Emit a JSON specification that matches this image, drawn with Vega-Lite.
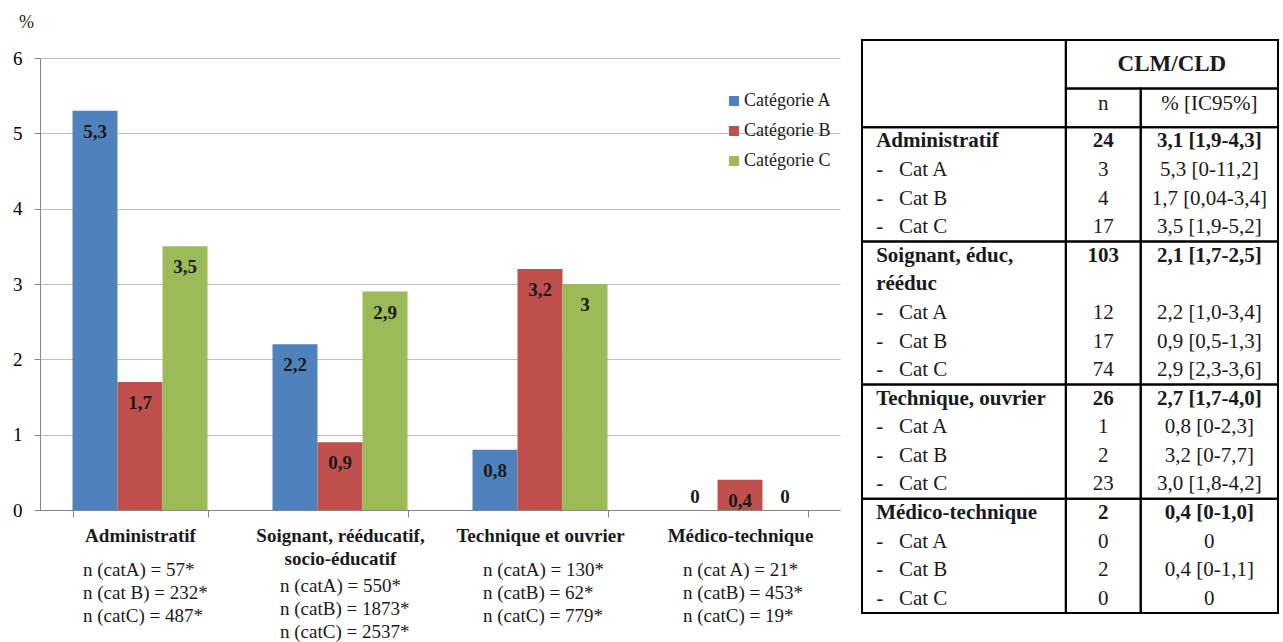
{
  "$schema": "https://vega.github.io/schema/vega-lite/v6.json",
  "background": "white",
  "padding": {"left": 12, "top": 13, "right": 5, "bottom": 5},
  "config": {
    "font": "Liberation Serif",
    "view": {"stroke": null},
    "locale": {"number": {"decimal": ",", "thousands": " ", "grouping": [3], "currency": ["", " €"]}}
  },
  "datasets": {
    "barres": [
      {"metier": "Administratif", "categorie": "Catégorie A", "pct": 5.3},
      {"metier": "Administratif", "categorie": "Catégorie B", "pct": 1.7},
      {"metier": "Administratif", "categorie": "Catégorie C", "pct": 3.5},
      {"metier": "Soignant, rééducatif, socio-éducatif", "categorie": "Catégorie A", "pct": 2.2},
      {"metier": "Soignant, rééducatif, socio-éducatif", "categorie": "Catégorie B", "pct": 0.9},
      {"metier": "Soignant, rééducatif, socio-éducatif", "categorie": "Catégorie C", "pct": 2.9},
      {"metier": "Technique et ouvrier", "categorie": "Catégorie A", "pct": 0.8},
      {"metier": "Technique et ouvrier", "categorie": "Catégorie B", "pct": 3.2},
      {"metier": "Technique et ouvrier", "categorie": "Catégorie C", "pct": 3.0},
      {"metier": "Médico-technique", "categorie": "Catégorie A", "pct": 0},
      {"metier": "Médico-technique", "categorie": "Catégorie B", "pct": 0.4},
      {"metier": "Médico-technique", "categorie": "Catégorie C", "pct": 0}
    ],
    "effectifs": [
      {"metier": "Administratif", "cat": "A", "texte": "n (catA) = 57*"},
      {"metier": "Administratif", "cat": "B", "texte": "n (cat B) = 232*"},
      {"metier": "Administratif", "cat": "C", "texte": "n (catC) =  487*"},
      {"metier": "Soignant, rééducatif, socio-éducatif", "cat": "A", "texte": "n (catA) = 550*"},
      {"metier": "Soignant, rééducatif, socio-éducatif", "cat": "B", "texte": "n (catB) = 1873*"},
      {"metier": "Soignant, rééducatif, socio-éducatif", "cat": "C", "texte": "n (catC) = 2537*"},
      {"metier": "Technique et ouvrier", "cat": "A", "texte": "n (catA) = 130*"},
      {"metier": "Technique et ouvrier", "cat": "B", "texte": "n (catB) = 62*"},
      {"metier": "Technique et ouvrier", "cat": "C", "texte": "n (catC) = 779*"},
      {"metier": "Médico-technique", "cat": "A", "texte": "n (cat A) = 21*"},
      {"metier": "Médico-technique", "cat": "B", "texte": "n (catB) = 453*"},
      {"metier": "Médico-technique", "cat": "C", "texte": "n (catC) = 19*"}
    ],
    "tableau": [
      {"row": 1, "label": "Administratif", "n": "24", "pct": "3,1 [1,9-4,3]", "niveau": "groupe"},
      {"row": 2, "label": "-\u00a0\u00a0\u00a0Cat A", "n": "3", "pct": "5,3 [0-11,2]", "niveau": "sous"},
      {"row": 3, "label": "-\u00a0\u00a0\u00a0Cat B", "n": "4", "pct": "1,7 [0,04-3,4]", "niveau": "sous"},
      {"row": 4, "label": "-\u00a0\u00a0\u00a0Cat C", "n": "17", "pct": "3,5 [1,9-5,2]", "niveau": "sous"},
      {"row": 5, "label": "Soignant, éduc,", "n": "103", "pct": "2,1 [1,7-2,5]", "niveau": "groupe"},
      {"row": 6, "label": "rééduc", "n": "", "pct": "", "niveau": "groupe"},
      {"row": 7, "label": "-\u00a0\u00a0\u00a0Cat A", "n": "12", "pct": "2,2 [1,0-3,4]", "niveau": "sous"},
      {"row": 8, "label": "-\u00a0\u00a0\u00a0Cat B", "n": "17", "pct": "0,9 [0,5-1,3]", "niveau": "sous"},
      {"row": 9, "label": "-\u00a0\u00a0\u00a0Cat C", "n": "74", "pct": "2,9 [2,3-3,6]", "niveau": "sous"},
      {"row": 10, "label": "Technique, ouvrier", "n": "26", "pct": "2,7 [1,7-4,0]", "niveau": "groupe"},
      {"row": 11, "label": "-\u00a0\u00a0\u00a0Cat A", "n": "1", "pct": "0,8 [0-2,3]", "niveau": "sous"},
      {"row": 12, "label": "-\u00a0\u00a0\u00a0Cat B", "n": "2", "pct": "3,2 [0-7,7]", "niveau": "sous"},
      {"row": 13, "label": "-\u00a0\u00a0\u00a0Cat C", "n": "23", "pct": "3,0 [1,8-4,2]", "niveau": "sous"},
      {"row": 14, "label": "Médico-technique", "n": "2", "pct": "0,4 [0-1,0]", "niveau": "groupe"},
      {"row": 15, "label": "-\u00a0\u00a0\u00a0Cat A", "n": "0", "pct": "0", "niveau": "sous"},
      {"row": 16, "label": "-\u00a0\u00a0\u00a0Cat B", "n": "2", "pct": "0,4 [0-1,1]", "niveau": "sous"},
      {"row": 17, "label": "-\u00a0\u00a0\u00a0Cat C", "n": "0", "pct": "0", "niveau": "sous"}
    ],
    "cellules": [
      {"x0": 0, "x1": 49, "y0": -2.55, "y1": 0.5},
      {"x0": 49, "x1": 100, "y0": -2.55, "y1": -0.85},
      {"x0": 49, "x1": 67, "y0": -0.85, "y1": 0.5},
      {"x0": 67, "x1": 100, "y0": -0.85, "y1": 0.5},
      {"x0": 0, "x1": 49, "y0": 0.5, "y1": 4.5},
      {"x0": 49, "x1": 67, "y0": 0.5, "y1": 4.5},
      {"x0": 67, "x1": 100, "y0": 0.5, "y1": 4.5},
      {"x0": 0, "x1": 49, "y0": 4.5, "y1": 9.5},
      {"x0": 49, "x1": 67, "y0": 4.5, "y1": 9.5},
      {"x0": 67, "x1": 100, "y0": 4.5, "y1": 9.5},
      {"x0": 0, "x1": 49, "y0": 9.5, "y1": 13.5},
      {"x0": 49, "x1": 67, "y0": 9.5, "y1": 13.5},
      {"x0": 67, "x1": 100, "y0": 9.5, "y1": 13.5},
      {"x0": 0, "x1": 49, "y0": 13.5, "y1": 17.5},
      {"x0": 49, "x1": 67, "y0": 13.5, "y1": 17.5},
      {"x0": 67, "x1": 100, "y0": 13.5, "y1": 17.5}
    ]
  },
  "bounds": "flush",
  "columns": 2,
  "spacing": {"row": 48, "column": 22},
  "concat": [
    {
      "width": 800,
      "height": 452,
      "data": {"name": "barres"},
      "encoding": {
        "x": {
          "field": "metier", "type": "nominal", "title": null,
          "sort": ["Administratif", "Soignant, rééducatif, socio-éducatif", "Technique et ouvrier", "Médico-technique"],
          "scale": {"paddingInner": 0.325, "paddingOuter": 0.1625},
          "axis": {
            "labelAngle": 0, "labelFontSize": 19, "labelFontWeight": "bold", "labelColor": "#1a1a1a",
            "labelPadding": 9, "labelLineHeight": 23, "labelLimit": 400,
            "labelExpr": "datum.label == 'Soignant, rééducatif, socio-éducatif' ? ['Soignant, rééducatif,', 'socio-éducatif'] : datum.label",
            "tickBand": "extent", "tickSize": 7, "tickColor": "#868686", "domainColor": "#868686"
          }
        },
        "xOffset": {"field": "categorie", "type": "nominal", "scale": {"paddingInner": 0, "paddingOuter": 0}},
        "y": {
          "field": "pct", "type": "quantitative",
          "scale": {"domain": [0, 6], "nice": false},
          "axis": {
            "values": [0, 1, 2, 3, 4, 5, 6], "title": "%", "titleAngle": 0, "titleX": -14, "titleY": -36,
            "titleFontSize": 18, "titleFontWeight": "normal", "titleAlign": "center", "titleBaseline": "middle", "titleColor": "#1a1a1a",
            "labelFontSize": 19, "labelPadding": 12, "labelColor": "#000000", "tickSize": 6,
            "gridColor": "#bfbfbf", "domainColor": "#868686", "tickColor": "#868686"
          }
        }
      },
      "layer": [
        {
          "mark": {"type": "bar"},
          "encoding": {
            "color": {
              "field": "categorie", "type": "nominal",
              "scale": {"range": ["#4F81BD", "#C0504D", "#9BBB59"]},
              "legend": {
                "title": null, "orient": "none", "legendX": 685, "legendY": 34,
                "symbolType": "square", "symbolSize": 100, "symbolStrokeWidth": 0, "symbolOpacity": 1,
                "labelFontSize": 18, "labelColor": "#1a1a1a", "rowPadding": 12, "labelOffset": 1
              }
            }
          }
        },
        {
          "transform": [{"filter": "datum.pct > 0"}],
          "mark": {"type": "text", "dy": 21, "fontWeight": "bold", "fontSize": 19, "baseline": "middle", "color": "#1a1a1a"},
          "encoding": {"text": {"field": "pct", "type": "quantitative", "format": ".1~f"}}
        },
        {
          "transform": [{"filter": "datum.pct == 0"}],
          "mark": {"type": "text", "dy": -13, "fontWeight": "bold", "fontSize": 19, "baseline": "middle", "color": "#1a1a1a"},
          "encoding": {"text": {"field": "pct", "type": "quantitative", "format": ".1~f"}}
        }
      ]
    },
    {
      "width": 416,
      "height": 452,
      "layer": [
        {
          "data": {"name": "cellules"},
          "mark": {"type": "rect", "fill": "transparent", "stroke": "#000000", "strokeWidth": 2},
          "encoding": {
            "x": {"field": "x0", "type": "quantitative", "scale": {"domain": [0, 100], "nice": false, "zero": false}, "axis": null},
            "x2": {"field": "x1"},
            "y": {"field": "y0", "type": "quantitative", "scale": {"domain": [-1.92, 13.895], "nice": false, "zero": false, "reverse": true}, "axis": null},
            "y2": {"field": "y1"}
          }
        },
        {
          "data": {"values": [{}]},
          "mark": {"type": "text", "text": "CLM/CLD", "fontWeight": "bold", "fontSize": 23, "baseline": "middle", "color": "#1a1a1a"},
          "encoding": {"x": {"datum": 74.5}, "y": {"datum": -1.7}}
        },
        {
          "data": {"values": [{}]},
          "mark": {"type": "text", "text": "n", "fontSize": 21, "baseline": "middle", "color": "#1a1a1a"},
          "encoding": {"x": {"datum": 58}, "y": {"datum": -0.3}}
        },
        {
          "data": {"values": [{}]},
          "mark": {"type": "text", "text": "% [IC95%]", "fontSize": 21, "baseline": "middle", "color": "#1a1a1a"},
          "encoding": {"x": {"datum": 83.5}, "y": {"datum": -0.3}}
        },
        {
          "data": {"name": "tableau"},
          "transform": [{"filter": "datum.niveau == 'groupe'"}],
          "mark": {"type": "text", "align": "left", "fontWeight": "bold", "fontSize": 21, "baseline": "middle", "color": "#1a1a1a"},
          "encoding": {"x": {"datum": 3.4}, "y": {"field": "row", "type": "quantitative"}, "text": {"field": "label"}}
        },
        {
          "data": {"name": "tableau"},
          "transform": [{"filter": "datum.niveau == 'sous'"}],
          "mark": {"type": "text", "align": "left", "fontSize": 21, "baseline": "middle", "color": "#1a1a1a"},
          "encoding": {"x": {"datum": 3.4}, "y": {"field": "row", "type": "quantitative"}, "text": {"field": "label"}}
        },
        {
          "data": {"name": "tableau"},
          "transform": [{"filter": "datum.niveau == 'groupe'"}],
          "mark": {"type": "text", "align": "center", "fontWeight": "bold", "fontSize": 21, "baseline": "middle", "color": "#1a1a1a"},
          "encoding": {"x": {"datum": 58}, "y": {"field": "row", "type": "quantitative"}, "text": {"field": "n"}}
        },
        {
          "data": {"name": "tableau"},
          "transform": [{"filter": "datum.niveau == 'sous'"}],
          "mark": {"type": "text", "align": "center", "fontSize": 21, "baseline": "middle", "color": "#1a1a1a"},
          "encoding": {"x": {"datum": 58}, "y": {"field": "row", "type": "quantitative"}, "text": {"field": "n"}}
        },
        {
          "data": {"name": "tableau"},
          "transform": [{"filter": "datum.niveau == 'groupe'"}],
          "mark": {"type": "text", "align": "center", "fontWeight": "bold", "fontSize": 21, "baseline": "middle", "color": "#1a1a1a"},
          "encoding": {"x": {"datum": 83.5}, "y": {"field": "row", "type": "quantitative"}, "text": {"field": "pct"}}
        },
        {
          "data": {"name": "tableau"},
          "transform": [{"filter": "datum.niveau == 'sous'"}],
          "mark": {"type": "text", "align": "center", "fontSize": 21, "baseline": "middle", "color": "#1a1a1a"},
          "encoding": {"x": {"datum": 83.5}, "y": {"field": "row", "type": "quantitative"}, "text": {"field": "pct"}}
        }
      ]
    },
    {
      "width": 800,
      "height": 69,
      "data": {"name": "effectifs"},
      "encoding": {
        "x": {
          "field": "metier", "type": "nominal",
          "sort": ["Administratif", "Soignant, rééducatif, socio-éducatif", "Technique et ouvrier", "Médico-technique"],
          "scale": {"paddingInner": 0.325, "paddingOuter": 0.1625}, "axis": null
        },
        "y": {"field": "cat", "type": "nominal", "axis": null, "scale": {"paddingInner": 0, "paddingOuter": 0}},
        "text": {"field": "texte"}
      },
      "layer": [
        {
          "transform": [{"filter": "datum.metier != 'Soignant, rééducatif, socio-éducatif'"}],
          "mark": {"type": "text", "align": "left", "dx": -57, "fontSize": 19, "baseline": "middle", "color": "#1a1a1a"}
        },
        {
          "transform": [{"filter": "datum.metier == 'Soignant, rééducatif, socio-éducatif'"}],
          "mark": {"type": "text", "align": "left", "dx": -60, "dy": 16, "fontSize": 19, "baseline": "middle", "color": "#1a1a1a"}
        }
      ]
    }
  ]
}
